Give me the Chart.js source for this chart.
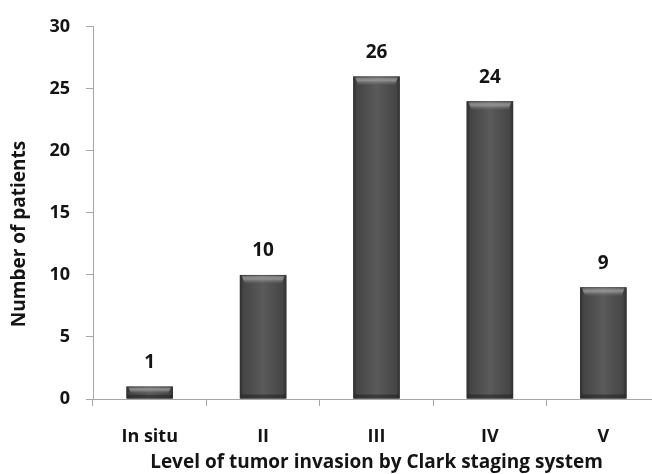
<!DOCTYPE html>
<html>
<head>
<meta charset="utf-8">
<script src="https://cdn.jsdelivr.net/npm/chart.js@4"></script>
<style>
  html, body { margin: 0; padding: 0; background: #fff; overflow: hidden; }
  #wrap { width: 670px; height: 474px; }
</style>
</head>
<body>
<div id="wrap"><canvas id="c" width="670" height="474"></canvas></div>
<script>
// Clark level categories and patient counts
const categories = ['In situ', 'II', 'III', 'IV', 'V'];
const patients = [1, 10, 26, 24, 9];
const yTicks = [0, 5, 10, 15, 20, 25, 30];
const yTitle = 'Number of patients';
const xTitle = 'Level of tumor invasion by Clark staging system';

const FONT = '"Open Sans", Lato, sans-serif';
const TEXT = '#141414';
const AXIS = '#a6a6a6';

// Shaded bars: darker sides, lighter bevel on top, plus value labels
const barShade = {
  id: 'barShade',
  afterDatasetsDraw(chart) {
    const ctx = chart.ctx;
    const meta = chart.getDatasetMeta(0);
    meta.data.forEach((bar, i) => {
      const w = bar.width, left = bar.x - w / 2, right = bar.x + w / 2;
      const top = bar.y, bottom = bar.base;
      const h = bottom - top;
      ctx.save();
      // horizontal shading
      const g = ctx.createLinearGradient(left, 0, right, 0);
      g.addColorStop(0, '#2e2e2e');
      g.addColorStop(0.08, '#454545');
      g.addColorStop(0.5, '#5a5a5a');
      g.addColorStop(0.92, '#464646');
      g.addColorStop(1, '#303030');
      ctx.fillStyle = g;
      ctx.fillRect(left, top, w, h);
      // top bevel
      const bev = Math.min(9, h * 0.6);
      const gb = ctx.createLinearGradient(0, top, 0, top + bev);
      gb.addColorStop(0, 'rgba(200,200,200,0.25)');
      gb.addColorStop(0.45, 'rgba(170,170,170,0.7)');
      gb.addColorStop(1, 'rgba(120,120,120,0)');
      ctx.fillStyle = gb;
      ctx.beginPath();
      ctx.moveTo(left + 2, top + 1);
      ctx.lineTo(right - 2, top + 1);
      ctx.lineTo(right - 5, top + bev);
      ctx.lineTo(left + 5, top + bev);
      ctx.closePath();
      ctx.fill();
      // bottom edge
      const be = Math.min(4, h * 0.3);
      ctx.fillStyle = 'rgba(30,30,30,0.5)';
      ctx.fillRect(left + 1, bottom - be, w - 2, be);
      // value label
      ctx.fillStyle = TEXT;
      ctx.font = 'bold 19px ' + FONT;
      ctx.textAlign = 'center';
      ctx.textBaseline = 'middle';
      ctx.fillText(String(patients[i]), bar.x, top - 24);
      ctx.restore();
    });
  },
  // vertical axis title, centred lower than the plot centre
  afterDraw(chart) {
    const ctx = chart.ctx;
    ctx.save();
    ctx.translate(20, 234);
    ctx.rotate(-Math.PI / 2);
    ctx.fillStyle = TEXT;
    ctx.font = 'bold 19px ' + FONT;
    ctx.textAlign = 'center';
    ctx.textBaseline = 'middle';
    ctx.fillText(yTitle, 0, 0);
    ctx.restore();
  }
};

new Chart(document.getElementById('c'), {
  type: 'bar',
  data: {
    labels: categories,
    datasets: [{
      data: patients,
      backgroundColor: '#4f4f4f',
      borderWidth: 0,
      barPercentage: 0.41,
      categoryPercentage: 1.0
    }]
  },
  options: {
    responsive: false,
    animation: false,
    layout: { padding: { top: 24, right: 10, left: 0, bottom: 0 } },
    plugins: { legend: { display: false }, tooltip: { enabled: false } },
    scales: {
      x: {
        offset: true,
        border: { color: AXIS, width: 1 },
        grid: { display: true, drawOnChartArea: false, drawTicks: true, tickLength: 7, color: AXIS, offset: true },
        ticks: { color: TEXT, font: { family: FONT, size: 18, weight: 'bold' }, padding: 20 },
        title: { display: true, text: xTitle, color: TEXT, font: { family: FONT, size: 19, weight: 'bold' }, padding: { top: 0, bottom: 0 } },
        afterFit(scale) { scale.height = 75; }
      },
      y: {
        min: 0, max: 30,
        afterBuildTicks(scale) { scale.ticks = yTicks.map(v => ({ value: v })); },
        border: { color: AXIS, width: 1 },
        grid: { display: true, drawOnChartArea: false, drawTicks: true, tickLength: 7, color: AXIS },
        ticks: { color: TEXT, font: { family: FONT, size: 18, weight: 'bold' }, padding: 16 },
        afterFit(scale) { scale.width = 93; }
      }
    }
  },
  plugins: [barShade]
});
</script>
</body>
</html>
